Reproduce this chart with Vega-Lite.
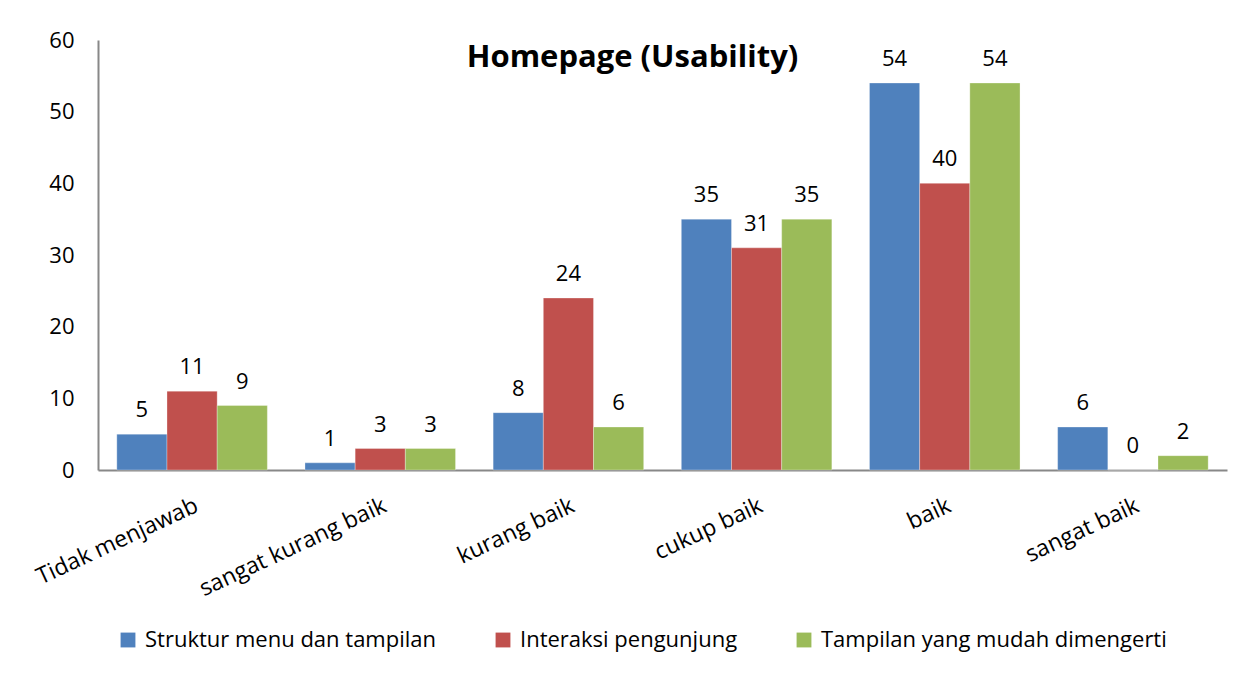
{
  "$schema": "https://vega.github.io/schema/vega-lite/v6.json",
  "autosize": "none",
  "padding": {"left": 98, "top": 40, "right": 25, "bottom": 207},
  "width": 1129,
  "height": 430,
  "background": "white",
  "title": {
    "text": "Homepage (Usability)",
    "font": "Open Sans",
    "fontSize": 31,
    "fontWeight": "bold",
    "color": "black",
    "anchor": "middle",
    "frame": "group",
    "dx": -30,
    "offset": -45
  },
  "data": {
    "values": [
      {"kategori": "Tidak menjawab", "seri": "Struktur menu dan tampilan", "nilai": 5},
      {"kategori": "Tidak menjawab", "seri": "Interaksi pengunjung", "nilai": 11},
      {"kategori": "Tidak menjawab", "seri": "Tampilan yang mudah dimengerti", "nilai": 9},
      {"kategori": "sangat kurang baik", "seri": "Struktur menu dan tampilan", "nilai": 1},
      {"kategori": "sangat kurang baik", "seri": "Interaksi pengunjung", "nilai": 3},
      {"kategori": "sangat kurang baik", "seri": "Tampilan yang mudah dimengerti", "nilai": 3},
      {"kategori": "kurang baik", "seri": "Struktur menu dan tampilan", "nilai": 8},
      {"kategori": "kurang baik", "seri": "Interaksi pengunjung", "nilai": 24},
      {"kategori": "kurang baik", "seri": "Tampilan yang mudah dimengerti", "nilai": 6},
      {"kategori": "cukup baik", "seri": "Struktur menu dan tampilan", "nilai": 35},
      {"kategori": "cukup baik", "seri": "Interaksi pengunjung", "nilai": 31},
      {"kategori": "cukup baik", "seri": "Tampilan yang mudah dimengerti", "nilai": 35},
      {"kategori": "baik", "seri": "Struktur menu dan tampilan", "nilai": 54},
      {"kategori": "baik", "seri": "Interaksi pengunjung", "nilai": 40},
      {"kategori": "baik", "seri": "Tampilan yang mudah dimengerti", "nilai": 54},
      {"kategori": "sangat baik", "seri": "Struktur menu dan tampilan", "nilai": 6},
      {"kategori": "sangat baik", "seri": "Interaksi pengunjung", "nilai": 0},
      {"kategori": "sangat baik", "seri": "Tampilan yang mudah dimengerti", "nilai": 2}
    ]
  },
  "encoding": {
    "x": {
      "field": "kategori",
      "type": "nominal",
      "sort": null,
      "scale": {"paddingInner": 0.2, "paddingOuter": 0.1},
      "axis": {
        "title": null,
        "labelAngle": -25,
        "labelAlign": "right",
        "labelBaseline": "top",
        "labelPadding": 24,
        "labelFont": "Open Sans",
        "labelFontSize": 23,
        "labelColor": "black",
        "ticks": false,
        "domainColor": "#888888",
        "domainWidth": 2,
        "labelLimit": 0,
        "labelOverlap": false
      }
    },
    "xOffset": {
      "field": "seri",
      "type": "nominal",
      "sort": ["Struktur menu dan tampilan", "Interaksi pengunjung", "Tampilan yang mudah dimengerti"],
      "scale": {"paddingInner": 0, "paddingOuter": 0}
    },
    "y": {
      "field": "nilai",
      "type": "quantitative",
      "scale": {"domain": [0, 60], "nice": false},
      "axis": {
        "title": null,
        "values": [0, 10, 20, 30, 40, 50, 60],
        "grid": false,
        "ticks": false,
        "labelPadding": 24,
        "labelFont": "Open Sans",
        "labelFontSize": 22,
        "labelColor": "black",
        "domainColor": "#888888",
        "domainWidth": 2
      }
    }
  },
  "layer": [
    {
      "mark": {"type": "bar", "stroke": "white", "strokeWidth": 0.5, "strokeOpacity": 0.6},
      "encoding": {
        "color": {
          "field": "seri",
          "type": "nominal",
          "sort": ["Struktur menu dan tampilan", "Interaksi pengunjung", "Tampilan yang mudah dimengerti"],
          "scale": {"range": ["#4F81BD", "#C0504D", "#9BBB59"]},
          "legend": {
            "title": null,
            "orient": "none",
            "legendX": 19,
            "legendY": 589,
            "direction": "horizontal",
            "symbolType": "square",
            "symbolSize": 220,
            "symbolStrokeWidth": 0,
            "labelFont": "Open Sans",
            "labelFontSize": 22,
            "labelColor": "black",
            "labelOffset": 6,
            "labelLimit": 0,
            "columnPadding": 55
          }
        }
      }
    },
    {
      "mark": {"type": "text", "baseline": "bottom", "dy": -12, "font": "Open Sans", "fontSize": 22, "color": "black"},
      "encoding": {
        "text": {"field": "nilai", "type": "quantitative"}
      }
    }
  ],
  "config": {"view": {"stroke": null}}
}
